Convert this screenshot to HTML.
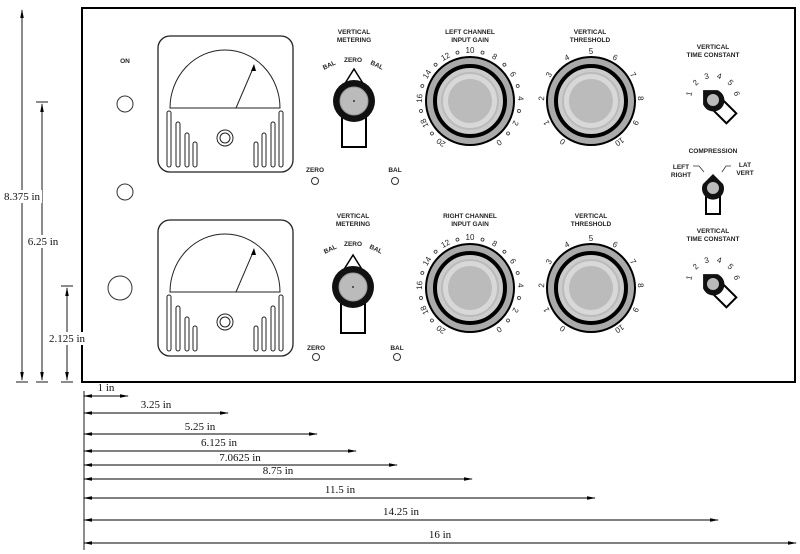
<!DOCTYPE html>
<html><head><meta charset="utf-8"><style>
html,body{margin:0;padding:0;background:#fff;}
svg{display:block;}
text{font-family:"Liberation Sans",sans-serif;}
.s{font-size:6.5px;font-weight:bold;fill:#222;text-anchor:middle;}
.d{font-family:"Liberation Serif",serif;font-size:11px;fill:#111;text-anchor:middle;}
.n{font-size:8px;fill:#222;text-anchor:middle;}
</style></head><body>
<svg width="800" height="554" viewBox="0 0 800 554" xmlns="http://www.w3.org/2000/svg">
<defs>
<marker id="a" markerWidth="10" markerHeight="6" refX="9" refY="3" orient="auto-start-reverse"><path d="M0,1 L10,3 L0,5z" fill="#000"/></marker>
<g id="bigknob">
 <circle r="44" fill="#aaa" stroke="#000" stroke-width="2"/>
 <circle r="35" fill="#ccc" stroke="#000" stroke-width="4"/>
 <circle r="28" fill="#d8d8d8" stroke="#bbb" stroke-width="2"/>
 <circle r="22" fill="#bbb"/>
</g>
<g id="meter">
 <rect x="0" y="0" width="135" height="136" rx="12" fill="#fff" stroke="#222" stroke-width="1.3"/>
 <path d="M12,72 A55,58 0 0 1 122,72 Z" fill="#fff" stroke="#222" stroke-width="1"/>
 <line x1="78" y1="72" x2="96" y2="30" stroke="#222" stroke-width="1"/>
 <path d="M96,28 L93,35 L98,35z" fill="#000"/>
 <g fill="#fff" stroke="#222" stroke-width="1">
 <rect x="9" y="75" width="4" height="56" rx="2"/><rect x="18" y="86" width="4" height="45" rx="2"/><rect x="27" y="97" width="4" height="34" rx="2"/><rect x="35" y="106" width="4" height="25" rx="2"/>
 <rect x="96" y="106" width="4" height="25" rx="2"/><rect x="104" y="97" width="4" height="34" rx="2"/><rect x="113" y="86" width="4" height="45" rx="2"/><rect x="121" y="75" width="4" height="56" rx="2"/>
 <circle cx="67" cy="102" r="8"/><circle cx="67" cy="102" r="5"/>
 </g>
</g>
<g id="meterknob">
 <path d="M0,-32 L-10,-16 L10,-16z" fill="#fff" stroke="#000" stroke-width="1.5"/>
 <rect x="-12" y="14" width="24" height="32" fill="#fff" stroke="#000" stroke-width="2"/>
 <circle r="21" fill="#111"/>
 <circle r="14" fill="#bbb" stroke="#999"/>
 <circle r="1" fill="#333"/>
</g>
<g id="small">
 <rect x="-7" y="6" width="14" height="20" fill="#fff" stroke="#000" stroke-width="2"/>
 <path d="M0,-14 L-10,-4 A11,11 0 1 0 10,-4z" fill="#111"/>
 <circle r="6" fill="#bbb"/>
</g>
</defs>

<rect x="82" y="8" width="713" height="374" fill="#fff" stroke="#000" stroke-width="2"/>

<!-- left column -->
<text class="s" x="125" y="63">ON</text>
<circle cx="125" cy="104" r="8" fill="#fff" stroke="#333"/>
<circle cx="125" cy="192" r="8" fill="#fff" stroke="#333"/>
<circle cx="120" cy="288" r="12" fill="#fff" stroke="#333"/>

<use href="#meter" x="158" y="36"/>
<use href="#meter" x="158" y="220"/>

<!-- metering -->
<text class="s" x="354" y="34">VERTICAL</text><text class="s" x="354" y="42">METERING</text>
<text class="s" x="353" y="62">ZERO</text>
<text class="s" x="330" y="67" transform="rotate(-25 330 67)">BAL</text>
<text class="s" x="376" y="67" transform="rotate(25 376 67)">BAL</text>
<use href="#meterknob" x="354" y="101"/>
<text class="s" x="315" y="172">ZERO</text><circle cx="315" cy="181" r="3.5" fill="#fff" stroke="#333"/>
<text class="s" x="395" y="172">BAL</text><circle cx="395" cy="181" r="3.5" fill="#fff" stroke="#333"/>

<text class="s" x="353" y="218">VERTICAL</text><text class="s" x="353" y="226">METERING</text>
<text class="s" x="353" y="246">ZERO</text>
<text class="s" x="331" y="251" transform="rotate(-25 331 251)">BAL</text>
<text class="s" x="375" y="251" transform="rotate(25 375 251)">BAL</text>
<use href="#meterknob" x="353" y="287"/>
<text class="s" x="316" y="350">ZERO</text><circle cx="316" cy="357" r="3.5" fill="#fff" stroke="#333"/>
<text class="s" x="397" y="350">BAL</text><circle cx="397" cy="357" r="3.5" fill="#fff" stroke="#333"/>

<!-- gain knobs -->
<text class="s" x="470" y="34">LEFT CHANNEL</text><text class="s" x="470" y="42">INPUT GAIN</text>
<use href="#bigknob" x="470" y="101"/>
<g class="n">
<text x="470" y="53" transform="rotate(0 470 101)">10</text>
<text x="470" y="53" transform="rotate(29 470 101)">8</text>
<text x="470" y="53" transform="rotate(58 470 101)">6</text>
<text x="470" y="53" transform="rotate(87 470 101)">4</text>
<text x="470" y="53" transform="rotate(116 470 101)">2</text>
<text x="470" y="53" transform="rotate(145 470 101)">0</text>
<text x="470" y="53" transform="rotate(-29 470 101)">12</text>
<text x="470" y="53" transform="rotate(-58 470 101)">14</text>
<text x="470" y="53" transform="rotate(-87 470 101)">16</text>
<text x="470" y="53" transform="rotate(-116 470 101)">18</text>
<text x="470" y="53" transform="rotate(-145 470 101)">20</text>
</g>
<g fill="none" stroke="#333" stroke-width="0.8">
<circle cx="470" cy="51" r="1.5" transform="rotate(14.5 470 101)"/><circle cx="470" cy="51" r="1.5" transform="rotate(43.5 470 101)"/><circle cx="470" cy="51" r="1.5" transform="rotate(72.5 470 101)"/><circle cx="470" cy="51" r="1.5" transform="rotate(101.5 470 101)"/><circle cx="470" cy="51" r="1.5" transform="rotate(130.5 470 101)"/>
<circle cx="470" cy="51" r="1.5" transform="rotate(-14.5 470 101)"/><circle cx="470" cy="51" r="1.5" transform="rotate(-43.5 470 101)"/><circle cx="470" cy="51" r="1.5" transform="rotate(-72.5 470 101)"/><circle cx="470" cy="51" r="1.5" transform="rotate(-101.5 470 101)"/><circle cx="470" cy="51" r="1.5" transform="rotate(-130.5 470 101)"/>
</g>

<text class="s" x="470" y="218">RIGHT CHANNEL</text><text class="s" x="470" y="226">INPUT GAIN</text>
<use href="#bigknob" x="470" y="288"/>
<g class="n">
<text x="470" y="240" transform="rotate(0 470 288)">10</text>
<text x="470" y="240" transform="rotate(29 470 288)">8</text>
<text x="470" y="240" transform="rotate(58 470 288)">6</text>
<text x="470" y="240" transform="rotate(87 470 288)">4</text>
<text x="470" y="240" transform="rotate(116 470 288)">2</text>
<text x="470" y="240" transform="rotate(145 470 288)">0</text>
<text x="470" y="240" transform="rotate(-29 470 288)">12</text>
<text x="470" y="240" transform="rotate(-58 470 288)">14</text>
<text x="470" y="240" transform="rotate(-87 470 288)">16</text>
<text x="470" y="240" transform="rotate(-116 470 288)">18</text>
<text x="470" y="240" transform="rotate(-145 470 288)">20</text>
</g>
<g fill="none" stroke="#333" stroke-width="0.8">
<circle cx="470" cy="238" r="1.5" transform="rotate(14.5 470 288)"/><circle cx="470" cy="238" r="1.5" transform="rotate(43.5 470 288)"/><circle cx="470" cy="238" r="1.5" transform="rotate(72.5 470 288)"/><circle cx="470" cy="238" r="1.5" transform="rotate(101.5 470 288)"/><circle cx="470" cy="238" r="1.5" transform="rotate(130.5 470 288)"/>
<circle cx="470" cy="238" r="1.5" transform="rotate(-14.5 470 288)"/><circle cx="470" cy="238" r="1.5" transform="rotate(-43.5 470 288)"/><circle cx="470" cy="238" r="1.5" transform="rotate(-72.5 470 288)"/><circle cx="470" cy="238" r="1.5" transform="rotate(-101.5 470 288)"/><circle cx="470" cy="238" r="1.5" transform="rotate(-130.5 470 288)"/>
</g>

<!-- threshold -->
<text class="s" x="590" y="34">VERTICAL</text><text class="s" x="590" y="42">THRESHOLD</text>
<use href="#bigknob" x="591" y="101"/>
<g class="n">
<text x="591" y="54" transform="rotate(0 591 101)">5</text>
<text x="591" y="54" transform="rotate(29 591 101)">6</text>
<text x="591" y="54" transform="rotate(58 591 101)">7</text>
<text x="591" y="54" transform="rotate(87 591 101)">8</text>
<text x="591" y="54" transform="rotate(116 591 101)">9</text>
<text x="591" y="54" transform="rotate(145 591 101)">10</text>
<text x="591" y="54" transform="rotate(-29 591 101)">4</text>
<text x="591" y="54" transform="rotate(-58 591 101)">3</text>
<text x="591" y="54" transform="rotate(-87 591 101)">2</text>
<text x="591" y="54" transform="rotate(-116 591 101)">1</text>
<text x="591" y="54" transform="rotate(-145 591 101)">0</text>
</g>
<text class="s" x="591" y="218">VERTICAL</text><text class="s" x="591" y="226">THRESHOLD</text>
<use href="#bigknob" x="591" y="288"/>
<g class="n">
<text x="591" y="241" transform="rotate(0 591 288)">5</text>
<text x="591" y="241" transform="rotate(29 591 288)">6</text>
<text x="591" y="241" transform="rotate(58 591 288)">7</text>
<text x="591" y="241" transform="rotate(87 591 288)">8</text>
<text x="591" y="241" transform="rotate(116 591 288)">9</text>
<text x="591" y="241" transform="rotate(145 591 288)">10</text>
<text x="591" y="241" transform="rotate(-29 591 288)">4</text>
<text x="591" y="241" transform="rotate(-58 591 288)">3</text>
<text x="591" y="241" transform="rotate(-87 591 288)">2</text>
<text x="591" y="241" transform="rotate(-116 591 288)">1</text>
<text x="591" y="241" transform="rotate(-145 591 288)">0</text>
</g>

<!-- right column -->
<text class="s" x="713" y="49">VERTICAL</text><text class="s" x="713" y="57">TIME CONSTANT</text>
<g class="n" font-size="7">
<text x="713" y="78" transform="rotate(-75 713 100)">1</text><text x="713" y="78" transform="rotate(-45 713 100)">2</text><text x="713" y="78" transform="rotate(-15 713 100)">3</text><text x="713" y="78" transform="rotate(15 713 100)">4</text><text x="713" y="78" transform="rotate(45 713 100)">5</text><text x="713" y="78" transform="rotate(75 713 100)">6</text>
</g>
<use href="#small" x="0" y="0" transform="translate(713 100) rotate(-45)"/>

<text class="s" x="713" y="153">COMPRESSION</text>
<text class="s" x="681" y="169">LEFT</text><text class="s" x="681" y="177">RIGHT</text>
<text class="s" x="745" y="167">LAT</text><text class="s" x="745" y="175">VERT</text>
<path d="M693,166 L699,166 L704,172 M731,166 L726,166 L722,172" fill="none" stroke="#333" stroke-width="0.8"/>
<use href="#small" x="713" y="188"/>

<text class="s" x="713" y="233">VERTICAL</text><text class="s" x="713" y="241">TIME CONSTANT</text>
<g class="n" font-size="7">
<text x="713" y="262" transform="rotate(-75 713 284)">1</text><text x="713" y="262" transform="rotate(-45 713 284)">2</text><text x="713" y="262" transform="rotate(-15 713 284)">3</text><text x="713" y="262" transform="rotate(15 713 284)">4</text><text x="713" y="262" transform="rotate(45 713 284)">5</text><text x="713" y="262" transform="rotate(75 713 284)">6</text>
</g>
<use href="#small" x="0" y="0" transform="translate(713 284) rotate(-45)"/>

<!-- vertical dims -->
<g stroke="#000" stroke-width="0.9" fill="none">
<line x1="22" y1="10" x2="22" y2="380" marker-start="url(#a)" marker-end="url(#a)"/>
<line x1="16" y1="382" x2="28" y2="382"/>
<line x1="42" y1="104" x2="42" y2="380" marker-start="url(#a)" marker-end="url(#a)"/>
<line x1="36" y1="382" x2="48" y2="382"/><line x1="36" y1="102" x2="48" y2="102"/>
<line x1="67" y1="288" x2="67" y2="380" marker-start="url(#a)" marker-end="url(#a)"/>
<line x1="61" y1="382" x2="73" y2="382"/><line x1="61" y1="286" x2="73" y2="286"/>
</g>
<rect x="2" y="190" width="40" height="13" fill="#fff"/><text class="d" x="22" y="200">8.375 in</text>
<rect x="26" y="235" width="34" height="13" fill="#fff"/><text class="d" x="43" y="245">6.25 in</text>
<rect x="46" y="332" width="44" height="13" fill="#fff"/><text class="d" x="67" y="342">2.125 in</text>

<!-- horizontal dims -->
<g stroke="#000" stroke-width="0.9" fill="none">
<line x1="84" y1="396" x2="128" y2="396" marker-start="url(#a)" marker-end="url(#a)"/>
<line x1="84" y1="413" x2="228" y2="413" marker-start="url(#a)" marker-end="url(#a)"/>
<line x1="84" y1="434" x2="317" y2="434" marker-start="url(#a)" marker-end="url(#a)"/>
<line x1="84" y1="451" x2="356" y2="451" marker-start="url(#a)" marker-end="url(#a)"/>
<line x1="84" y1="465" x2="397" y2="465" marker-start="url(#a)" marker-end="url(#a)"/>
<line x1="84" y1="479" x2="472" y2="479" marker-start="url(#a)" marker-end="url(#a)"/>
<line x1="84" y1="498" x2="595" y2="498" marker-start="url(#a)" marker-end="url(#a)"/>
<line x1="84" y1="520" x2="718" y2="520" marker-start="url(#a)" marker-end="url(#a)"/>
<line x1="84" y1="543" x2="796" y2="543" marker-start="url(#a)" marker-end="url(#a)"/>
<line x1="84" y1="391" x2="84" y2="550"/>
</g>
<text class="d" x="106" y="391">1 in</text>
<text class="d" x="156" y="408">3.25 in</text>
<text class="d" x="200" y="430">5.25 in</text>
<text class="d" x="219" y="446">6.125 in</text>
<text class="d" x="240" y="461">7.0625 in</text>
<text class="d" x="278" y="474">8.75 in</text>
<text class="d" x="340" y="493">11.5 in</text>
<text class="d" x="401" y="515">14.25 in</text>
<text class="d" x="440" y="538">16 in</text>
</svg>
</body></html>
